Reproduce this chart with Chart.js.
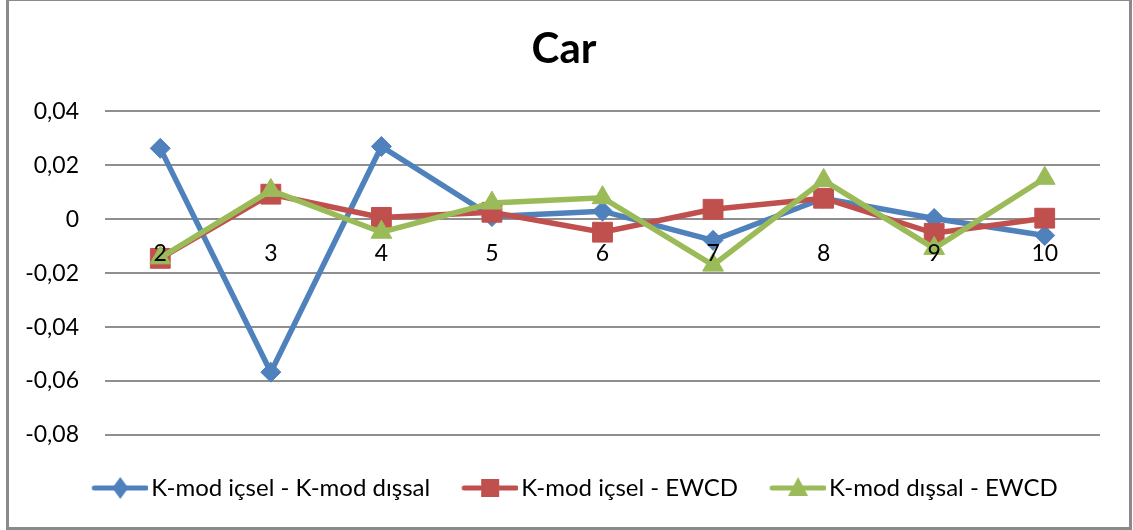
<!DOCTYPE html>
<html>
<head>
<meta charset="utf-8">
<title>Car</title>
<script src="https://cdn.jsdelivr.net/npm/chart.js@4"></script>
<style>
  html, body { margin: 0; padding: 0; background: #fff; overflow: hidden; }
  #frame {
    position: absolute; left: 6px; top: -2px;
    width: 1126px; height: 532px; box-sizing: border-box;
    border: 3px solid #8a8a8a; background: #fff;
  }
  #frame canvas { display: block; }
</style>
</head>
<body>
<div id="frame"><canvas id="c" width="1120" height="526"></canvas></div>
<script>
// Categories and the three difference series
const categories = ['2', '3', '4', '5', '6', '7', '8', '9', '10'];
const kmodInVsKmodOut = [0.0263, -0.0567, 0.0270, 0.0010, 0.0030, -0.0078, 0.0078, 0.0003, -0.0060];
const kmodInVsEwcd    = [-0.0145, 0.0093, 0.0007, 0.0026, -0.0048, 0.0037, 0.0078, -0.0052, 0.0004];
const kmodOutVsEwcd   = [-0.0143, 0.0107, -0.0048, 0.0060, 0.0080, -0.0170, 0.0144, -0.0108, 0.0152];

const seriesNames = ['K-mod içsel - K-mod dışsal', 'K-mod içsel - EWCD', 'K-mod dışsal - EWCD'];

// Value axis ticks and their printed labels (comma decimal)
const yTickValues = [-0.08, -0.06, -0.04, -0.02, 0, 0.02, 0.04];
const yTickLabels = ['-0,08', '-0,06', '-0,04', '-0,02', '0', '0,02', '0,04'];

const FONT = 'Lato';
const BLUE = '#4F81BD', RED = '#C0504D', GREEN = '#9BBB59';

// Small legend swatch: a thick line with the series marker in the middle
function makeSwatch(color, style) {
  const W = 87, H = 26, x0 = 31, cy = H / 2;
  const cv = document.createElement('canvas');
  cv.width = W; cv.height = H;
  const g = cv.getContext('2d');
  g.strokeStyle = color; g.lineWidth = 5; g.lineCap = 'round';
  g.beginPath(); g.moveTo(x0 + 2, cy); g.lineTo(W - 2, cy); g.stroke();
  const cx = (x0 + W) / 2;
  g.fillStyle = color;
  g.beginPath();
  if (style === 'rectRot') {
    g.moveTo(cx, cy - 11); g.lineTo(cx + 8, cy); g.lineTo(cx, cy + 11); g.lineTo(cx - 8, cy);
  } else if (style === 'rect') {
    g.rect(cx - 9, cy - 9, 18, 18);
  } else {
    g.moveTo(cx, cy - 11); g.lineTo(cx + 10, cy + 8); g.lineTo(cx - 10, cy + 8);
  }
  g.closePath(); g.fill();
  return cv;
}

const swatches = [makeSwatch(BLUE, 'rectRot'), makeSwatch(RED, 'rect'), makeSwatch(GREEN, 'triangle')];

function lineSeries(label, data, color, style, radius, order) {
  return {
    label, data,
    borderColor: color, backgroundColor: color,
    borderWidth: 5.5, tension: 0,
    pointStyle: style, pointRadius: radius, pointHoverRadius: radius,
    pointBorderColor: color, pointBackgroundColor: color, pointBorderWidth: 1,
    order
  };
}

// blank strip used as spacing around the plot
function spacer(position, size) {
  return {
    type: 'linear', position,
    grid: { display: false, drawTicks: false },
    border: { display: false },
    ticks: { display: false },
    afterFit(scale) {
      if (scale.isHorizontal()) scale.height = size; else scale.width = size;
    }
  };
}

new Chart(document.getElementById('c'), {
  type: 'line',
  data: {
    labels: categories,
    datasets: [
      lineSeries(seriesNames[0], kmodInVsKmodOut, BLUE, 'rectRot', 10, 3),
      lineSeries(seriesNames[1], kmodInVsEwcd, RED, 'rect', 14, 2),
      lineSeries(seriesNames[2], kmodOutVsEwcd, GREEN, 'triangle', 12, 1)
    ]
  },
  options: {
    responsive: false,
    animation: false,
    events: [],
    layout: { padding: { left: 0, right: 10, top: 0, bottom: 17 } },
    scales: {
      x: {
        type: 'category',
        offset: true,
        position: { y: 0 },
        grid: { display: false, drawTicks: false },
        border: { display: false },
        ticks: { z: 1, color: '#000', padding: 21, font: { family: FONT, size: 23 }, maxRotation: 0 }
      },
      y: {
        min: -0.08, max: 0.04,
        afterBuildTicks(scale) { scale.ticks = yTickValues.map(v => ({ value: v })); },
        grid: { color: '#8f8f8f', lineWidth: 2, drawTicks: false },
        border: { display: false },
        ticks: {
          color: '#000', padding: 26, font: { family: FONT, size: 23 },
          callback(value) {
            const i = yTickValues.findIndex(v => Math.abs(v - value) < 1e-9);
            return i >= 0 ? yTickLabels[i] : '';
          }
        },
        afterFit(scale) { scale.width = 96; }
      },
      marginRight: Object.assign(spacer('right', 19), { axis: 'y' }),
      marginBottom: Object.assign(spacer('bottom', 31), { axis: 'x' })
    },
    plugins: {
      title: {
        display: true, text: 'Car', color: '#000',
        font: { family: FONT, size: 42, weight: 'bold' },
        padding: { top: 23, bottom: 37 }
      },
      legend: {
        position: 'bottom',
        labels: {
          color: '#000',
          font: { family: FONT, size: 24 },
          usePointStyle: true,
          pointStyleWidth: 69,
          padding: 10,
          generateLabels(chart) {
            return chart.data.datasets.map((ds, i) => ({
              text: ds.label,
              pointStyle: swatches[i],
              fillStyle: ds.borderColor,
              strokeStyle: ds.borderColor,
              lineWidth: 0,
              hidden: false,
              datasetIndex: i
            }));
          }
        }
      },
      tooltip: { enabled: false }
    }
  }
});
</script>
</body>
</html>
